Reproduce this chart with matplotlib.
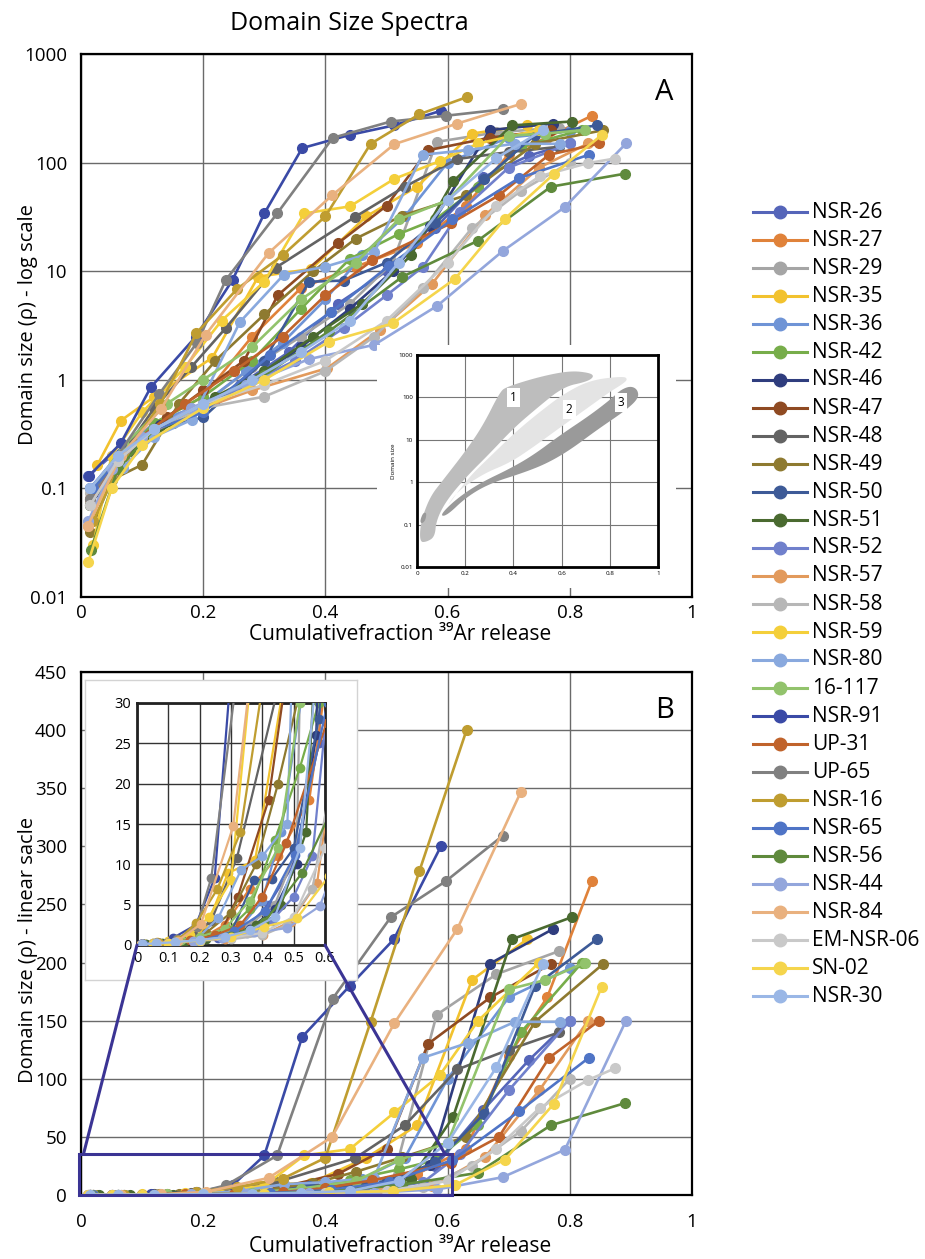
import numpy as np
import matplotlib
matplotlib.use('Agg')
import matplotlib.pyplot as plt
from matplotlib.patches import Rectangle, ConnectionPatch
from matplotlib.lines import Line2D

plt.rcParams['font.family'] = ['Open Sans', 'DejaVu Sans']

# ---------------- data ----------------
NAMES = ["NSR-26", "NSR-27", "NSR-29", "NSR-35", "NSR-36", "NSR-42", "NSR-46", "NSR-47",
         "NSR-48", "NSR-49", "NSR-50", "NSR-51", "NSR-52", "NSR-57", "NSR-58", "NSR-59",
         "NSR-80", "16-117", "NSR-91", "UP-31", "UP-65", "NSR-16", "NSR-65", "NSR-56",
         "NSR-44", "NSR-84", "EM-NSR-06", "SN-02", "NSR-30"]
COLORS = ["#5565b9", "#e0823a", "#a5a5a5", "#f2c22e", "#6f94d6", "#77ad4a", "#2f3d7e", "#8f4a22",
          "#636363", "#8e7a30", "#3d5a97", "#4a6a30", "#7080cc", "#e29a5c", "#b7b7b7", "#f4cf3a",
          "#89a9de", "#92c36c", "#3a4aa6", "#c0632b", "#808080", "#bf9d30", "#4f74c6", "#5f8a3c",
          "#93a6dc", "#e9b17f", "#c9c9c9", "#f5d54c", "#9ab7e6"]

x_nsr26 = [0.012, 0.05, 0.1, 0.18, 0.26, 0.34, 0.42, 0.5, 0.58, 0.658, 0.733, 0.80]
y_nsr26 = [0.13, 0.2, 0.32, 0.5, 0.9, 1.8, 5, 10, 25, 73, 116, 150]
x_nsr27 = [0.02, 0.06, 0.12, 0.2, 0.28, 0.36, 0.45, 0.55, 0.63, 0.70, 0.763, 0.836]
y_nsr27 = [0.1, 0.2, 0.4, 0.7, 2.5, 7, 11, 18, 40, 120, 170, 270]
x_nsr29 = [0.015, 0.06, 0.12, 0.2, 0.28, 0.36, 0.44, 0.51, 0.582, 0.68, 0.783]
y_nsr29 = [0.07, 0.2, 0.4, 0.6, 1.3, 2.5, 5, 12, 155, 190, 210]
x_nsr35 = [0.027, 0.065, 0.12, 0.215, 0.29, 0.377, 0.467, 0.55, 0.64, 0.73]
y_nsr35 = [0.165, 0.42, 0.7, 1.6, 8.9, 10.5, 32, 60, 185, 220]
x_nsr36 = [0.015, 0.06, 0.12, 0.2, 0.27, 0.33, 0.4, 0.46, 0.53, 0.6, 0.7, 0.8]
y_nsr36 = [0.08, 0.2, 0.4, 0.6, 1.2, 2.2, 5.5, 14, 32, 100, 170, 195]
x_nsr42 = [0.015, 0.06, 0.12, 0.2, 0.28, 0.36, 0.44, 0.52, 0.58, 0.65, 0.72, 0.82]
y_nsr42 = [0.07, 0.18, 0.4, 0.7, 1.5, 4.5, 13, 22, 30, 60, 140, 200]
x_nsr46 = [0.02, 0.07, 0.13, 0.2, 0.28, 0.36, 0.44, 0.51, 0.572, 0.669, 0.773]
y_nsr46 = [0.09, 0.2, 0.38, 0.6, 1.0, 2.0, 4.5, 10, 26, 199, 229]
x_nsr47 = [0.02, 0.07, 0.14, 0.2, 0.267, 0.322, 0.42, 0.5, 0.568, 0.67, 0.77]
y_nsr47 = [0.1, 0.22, 0.45, 0.8, 1.5, 6, 18, 40, 130, 170, 199]
x_nsr48 = [0.015, 0.06, 0.12, 0.18, 0.237, 0.319, 0.448, 0.53, 0.616, 0.70, 0.783]
y_nsr48 = [0.07, 0.18, 0.55, 1.3, 3.0, 10.8, 31.5, 60, 108, 125, 140]
x_nsr49 = [0.015, 0.05, 0.1, 0.16, 0.22, 0.3, 0.38, 0.45, 0.526, 0.63, 0.743, 0.855]
y_nsr49 = [0.04, 0.12, 0.165, 0.6, 1.5, 4, 10, 20, 32.5, 50, 149, 199]
x_nsr50 = [0.015, 0.06, 0.12, 0.2, 0.3, 0.373, 0.43, 0.5, 0.58, 0.66, 0.743, 0.844]
y_nsr50 = [0.1, 0.2, 0.35, 0.45, 1.5, 8, 8.2, 12, 28, 70, 180, 220]
x_nsr51 = [0.03, 0.08, 0.15, 0.22, 0.3, 0.38, 0.46, 0.54, 0.609, 0.705, 0.803]
y_nsr51 = [0.1, 0.22, 0.4, 0.7, 1.2, 2.5, 5, 14, 67, 220, 239]
x_nsr52 = [0.015, 0.05, 0.1, 0.18, 0.27, 0.35, 0.43, 0.5, 0.56, 0.62, 0.7, 0.8]
y_nsr52 = [0.05, 0.14, 0.3, 0.48, 0.9, 1.5, 3.0, 6, 11, 35, 90, 150]
x_nsr57 = [0.012, 0.05, 0.1, 0.18, 0.28, 0.403, 0.49, 0.575, 0.662, 0.75, 0.83]
y_nsr57 = [0.045, 0.14, 0.3, 0.5, 0.8, 1.28, 2.9, 7.7, 33, 90, 150]
x_nsr58 = [0.015, 0.06, 0.12, 0.2, 0.3, 0.4, 0.48, 0.56, 0.64, 0.72, 0.8]
y_nsr58 = [0.09, 0.2, 0.35, 0.55, 0.7, 1.2, 2.5, 7, 25, 55, 100]
x_nsr59 = [0.02, 0.05, 0.1, 0.17, 0.23, 0.3, 0.365, 0.44, 0.513, 0.587, 0.65, 0.75]
y_nsr59 = [0.03, 0.2, 0.5, 1.3, 3.5, 8, 34, 39.5, 71, 103, 150, 200]
x_nsr80 = [0.015, 0.068, 0.12, 0.182, 0.26, 0.332, 0.40, 0.48, 0.559, 0.634, 0.71, 0.784]
y_nsr80 = [0.1, 0.155, 0.3, 0.43, 3.4, 9.3, 11, 15, 118, 131, 149, 149]
x_16117 = [0.02, 0.07, 0.14, 0.2, 0.28, 0.36, 0.45, 0.52, 0.6, 0.70, 0.76, 0.825]
y_16117 = [0.1, 0.25, 0.6, 1.0, 2.0, 5.5, 12, 30, 45, 177, 185, 200]
x_nsr91 = [0.013, 0.065, 0.114, 0.188, 0.248, 0.30, 0.362, 0.44, 0.512, 0.589]
y_nsr91 = [0.13, 0.26, 0.85, 2.5, 8.3, 34, 136, 180, 220, 300]
x_up31 = [0.015, 0.05, 0.1, 0.17, 0.25, 0.33, 0.40, 0.477, 0.605, 0.684, 0.766, 0.848]
y_up31 = [0.08, 0.15, 0.3, 0.6, 1.2, 2.5, 6, 12.6, 27.5, 50, 118, 150]
x_up65 = [0.015, 0.06, 0.128, 0.19, 0.237, 0.321, 0.412, 0.507, 0.597, 0.69]
y_up65 = [0.08, 0.2, 0.74, 2.2, 8.3, 34, 169, 239, 270, 309]
x_nsr16 = [0.02, 0.07, 0.13, 0.189, 0.256, 0.33, 0.40, 0.474, 0.554, 0.631]
y_nsr16 = [0.05, 0.2, 0.6, 2.7, 6.9, 14, 32, 149, 279, 400]
x_nsr65 = [0.02, 0.06, 0.12, 0.2, 0.31, 0.409, 0.504, 0.608, 0.717, 0.831]
y_nsr65 = [0.1, 0.18, 0.35, 0.5, 1.7, 4.2, 11.2, 30, 72, 118]
x_nsr56 = [0.016, 0.06, 0.12, 0.2, 0.3, 0.406, 0.526, 0.649, 0.769, 0.89]
y_nsr56 = [0.027, 0.15, 0.35, 0.6, 1.1, 2.8, 8.9, 19, 60, 79]
x_nsr44 = [0.012, 0.05, 0.1, 0.18, 0.27, 0.373, 0.48, 0.583, 0.69, 0.792, 0.892]
y_nsr44 = [0.05, 0.15, 0.3, 0.55, 0.9, 1.55, 2.1, 4.8, 15.3, 39, 150]
x_nsr84 = [0.011, 0.065, 0.131, 0.204, 0.307, 0.411, 0.513, 0.616, 0.72]
y_nsr84 = [0.045, 0.2, 0.54, 2.6, 14.7, 50, 148, 229, 347]
x_emnsr06 = [0.015, 0.06, 0.12, 0.2, 0.3, 0.4, 0.5, 0.6, 0.68, 0.751, 0.83, 0.874]
y_emnsr06 = [0.07, 0.18, 0.35, 0.6, 0.9, 1.5, 3.5, 12, 40, 75, 99, 109]
x_sn02 = [0.012, 0.05, 0.1, 0.2, 0.3, 0.406, 0.51, 0.612, 0.694, 0.774, 0.852]
y_sn02 = [0.021, 0.1, 0.25, 0.55, 1.0, 2.25, 3.3, 8.5, 30.5, 78.6, 179]
x_nsr30 = [0.015, 0.06, 0.12, 0.2, 0.28, 0.36, 0.44, 0.52, 0.6, 0.68, 0.756]
y_nsr30 = [0.1, 0.2, 0.35, 0.6, 1.0, 1.8, 3.5, 12, 45, 110, 199]

XS = [x_nsr26, x_nsr27, x_nsr29, x_nsr35, x_nsr36, x_nsr42, x_nsr46, x_nsr47, x_nsr48, x_nsr49,
      x_nsr50, x_nsr51, x_nsr52, x_nsr57, x_nsr58, x_nsr59, x_nsr80, x_16117, x_nsr91, x_up31,
      x_up65, x_nsr16, x_nsr65, x_nsr56, x_nsr44, x_nsr84, x_emnsr06, x_sn02, x_nsr30]
YS = [y_nsr26, y_nsr27, y_nsr29, y_nsr35, y_nsr36, y_nsr42, y_nsr46, y_nsr47, y_nsr48, y_nsr49,
      y_nsr50, y_nsr51, y_nsr52, y_nsr57, y_nsr58, y_nsr59, y_nsr80, y_16117, y_nsr91, y_up31,
      y_up65, y_nsr16, y_nsr65, y_nsr56, y_nsr44, y_nsr84, y_emnsr06, y_sn02, y_nsr30]

# inset A (domain-size fields), x and log10(size)
field1_x = [0.011, 0.015, 0.053, 0.108, 0.205, 0.275, 0.344, 0.372, 0.51, 0.635, 0.718, 0.735, 0.705,
            0.607, 0.496, 0.40, 0.302, 0.205, 0.122, 0.08, 0.074, 0.039]
field1_l = [-1.41, -0.95, -0.35, 0.05, 0.76, 1.35, 2.13, 2.25, 2.49, 2.63, 2.58, 2.49, 2.37,
            2.25, 1.74, 1.27, 0.68, 0.13, -0.43, -0.9, -1.29, -1.41]
field2_x = [0.115, 0.21, 0.31, 0.41, 0.51, 0.61, 0.72, 0.857, 0.874, 0.857, 0.80, 0.705, 0.594,
            0.483, 0.386, 0.275, 0.164]
field2_l = [-0.66, 0.09, 0.64, 1.19, 1.66, 2.09, 2.41, 2.5, 2.43, 2.33, 2.13, 1.74, 1.29,
            0.83, 0.46, 0.20, -0.23]
field3_x = [0.094, 0.164, 0.261, 0.386, 0.483, 0.594, 0.718, 0.809, 0.843, 0.885, 0.915, 0.92,
            0.865, 0.746, 0.635, 0.538, 0.44, 0.302, 0.205, 0.122]
field3_l = [-0.78, -0.39, -0.02, 0.32, 0.64, 1.11, 1.58, 1.98, 2.17, 2.27, 2.19, 1.98,
            1.69, 1.23, 0.76, 0.44, 0.22, -0.03, -0.35, -0.80]
field3b_x = [0.012, 0.025, 0.04, 0.035, 0.02]
field3b_l = [-0.92, -0.72, -0.72, -0.9, -0.98]
FIELD_LABELS = ["1", "2", "3"]
FIELD_LABEL_X = [0.40, 0.632, 0.846]
FIELD_LABEL_L = [2.0, 1.72, 1.87]

# ---------------- figure ----------------
W, H = 925, 1259
fig = plt.figure(figsize=(W / 100, H / 100), dpi=100)


def px_axes(l, t, r, b):
    return fig.add_axes([l / W, 1 - b / H, (r - l) / W, (b - t) / H])


def chaikin(xs, ys, n=3):
    p = np.column_stack([xs, ys])
    for _ in range(n):
        q = np.roll(p, -1, axis=0)
        a = 0.75 * p + 0.25 * q
        b = 0.25 * p + 0.75 * q
        p = np.empty((2 * len(a), 2))
        p[0::2] = a
        p[1::2] = b
    return p


GRID_C = '#6a6a6a'
TICK_FS = 13.5
LAB_FS = 14.5

# ---- Panel A ----
axA = px_axes(81, 54, 692, 597)
axA.set_yscale('log')
axA.set_xlim(0, 1)
axA.set_ylim(0.01, 1000)
axA.set_xticks([0, 0.2, 0.4, 0.6, 0.8, 1])
axA.set_xticklabels(['0', '0.2', '0.4', '0.6', '0.8', '1'])
axA.set_yticks([0.01, 0.1, 1, 10, 100, 1000])
axA.set_yticklabels(['0.01', '0.1', '1', '10', '100', '1000'])
axA.minorticks_off()
axA.grid(True, color=GRID_C, lw=1.0)
axA.set_axisbelow(True)
axA.tick_params(length=0, labelsize=TICK_FS)
axA.tick_params(axis='y', pad=10)
axA.tick_params(axis='x', pad=5)
for s in axA.spines.values():
    s.set_linewidth(1.6)
    s.set_color('black')
for xs, ys, c in zip(XS, YS, COLORS):
    axA.plot(xs, ys, '-o', color=c, lw=1.9, ms=7, mec=c, zorder=3)
axA.text(0.955, 0.955, 'A', transform=axA.transAxes, ha='center', va='top', fontsize=21)

# white backdrop + inset in A
bgA = px_axes(377, 345, 676, 588)
bgA.set_facecolor('white')
bgA.set_xticks([])
bgA.set_yticks([])
for s in bgA.spines.values():
    s.set_visible(False)

insA = px_axes(417, 355, 658, 567)
insA.set_yscale('log')
insA.set_xlim(0, 1)
insA.set_ylim(0.01, 1000)
insA.set_xticks([0, 0.2, 0.4, 0.6, 0.8, 1])
insA.set_xticklabels(['0', '0.2', '0.4', '0.6', '0.8', '1'])
insA.set_yticks([0.01, 0.1, 1, 10, 100, 1000])
insA.set_yticklabels(['0.01', '0.1', '1', '10', '100', '1000'])
insA.minorticks_off()
insA.grid(True, color='#777777', lw=0.8)
insA.set_axisbelow(True)
insA.tick_params(length=0, labelsize=4.5, pad=3)
for s in insA.spines.values():
    s.set_linewidth(2.0)
    s.set_color('black')
for fx, fl, fc in [(field1_x, field1_l, '#bdbdbd'), (field2_x, field2_l, '#e4e4e4'),
                   (field3_x, field3_l, '#9a9a9a'), (field3b_x, field3b_l, '#9a9a9a')]:
    pts = chaikin(fx, fl, 3)
    insA.fill(pts[:, 0], 10 ** pts[:, 1], color=fc, lw=0, zorder=2)
for lab, lx, ll in zip(FIELD_LABELS, FIELD_LABEL_X, FIELD_LABEL_L):
    insA.text(lx, 10 ** ll, lab, ha='center', va='center', fontsize=8.5, zorder=4,
              bbox=dict(boxstyle='square,pad=0.25', fc='white', ec='none'))
insA.set_ylabel('Domain size', fontsize=4.5, labelpad=2)

# ---- Panel B ----
axB = px_axes(81, 672, 692, 1195)
axB.set_xlim(0, 1)
axB.set_ylim(0, 450)
axB.set_xticks([0, 0.2, 0.4, 0.6, 0.8, 1])
axB.set_xticklabels(['0', '0.2', '0.4', '0.6', '0.8', '1'])
axB.set_yticks(np.arange(0, 451, 50))
axB.grid(True, color=GRID_C, lw=1.0)
axB.set_axisbelow(True)
axB.tick_params(length=0, labelsize=TICK_FS)
axB.tick_params(axis='y', pad=10)
axB.tick_params(axis='x', pad=13)
for s in axB.spines.values():
    s.set_linewidth(1.6)
    s.set_color('black')
for xs, ys, c in zip(XS, YS, COLORS):
    axB.plot(xs, ys, '-o', color=c, lw=1.9, ms=7, mec=c, zorder=3)
axB.text(0.955, 0.955, 'B', transform=axB.transAxes, ha='center', va='top', fontsize=21)
axB.add_patch(Rectangle((-0.003, 0), 0.61, 35, fill=False, ec='#3b3494', lw=2.2,
                        clip_on=False, zorder=6))

# white box + zoom inset in B
bgB = px_axes(85, 680, 357, 980)
bgB.set_facecolor('white')
bgB.set_xticks([])
bgB.set_yticks([])
for s in bgB.spines.values():
    s.set_color('#d3d3d3')
    s.set_linewidth(1.0)

insB = px_axes(137, 703, 325, 945)
insB.set_xlim(0, 0.6)
insB.set_ylim(0, 30)
insB.set_xticks([0, 0.1, 0.2, 0.3, 0.4, 0.5, 0.6])
insB.set_xticklabels(['0', '0.1', '0.2', '0.3', '0.4', '0.5', '0.6'])
insB.set_yticks([0, 5, 10, 15, 20, 25, 30])
insB.grid(True, color='#333333', lw=1.0)
insB.set_axisbelow(True)
insB.tick_params(length=0, labelsize=10.5, pad=4)
for s in insB.spines.values():
    s.set_linewidth(2.0)
    s.set_color('#222222')
for xs, ys, c in zip(XS, YS, COLORS):
    insB.plot(xs, ys, '-o', color=c, lw=1.6, ms=6, mec=c, zorder=3)

for (xa, ya), (xb, yb) in [((0, 0), (0.004, 35)), ((0.6, 0), (0.596, 35))]:
    con = ConnectionPatch(xyA=(xa, ya), coordsA=insB.transData, xyB=(xb, yb),
                          coordsB=axB.transData, color='#3b3494', lw=2.2, zorder=7)
    fig.add_artist(con)

# ---- texts ----
fig.text(230 / W, 1 - 24 / H, 'Domain Size Spectra', ha='left', va='center', fontsize=18)
fig.text(28 / W, 1 - 325 / H, 'Domain size (ρ) - log scale', rotation=90,
         ha='center', va='center', fontsize=LAB_FS)
fig.text(28 / W, 1 - 950 / H, 'Domain size (ρ) - linear sacle', rotation=90,
         ha='center', va='center', fontsize=LAB_FS)
fig.text(249 / W, 1 - 634 / H, 'Cumulativefraction ³⁹Ar release', ha='left', va='center',
         fontsize=15)
fig.text(249 / W, 1 - 1246 / H, 'Cumulativefraction ³⁹Ar release', ha='left', va='center',
         fontsize=15)

# ---- legend (manual layout) ----
LEG_Y0, LEG_DY = 212, 28.0
for i, (nm, c) in enumerate(zip(NAMES, COLORS)):
    yy = 1 - (LEG_Y0 + i * LEG_DY) / H
    fig.add_artist(Line2D([753 / W, 807 / W], [yy, yy], color=c, lw=2.2,
                          transform=fig.transFigure))
    fig.add_artist(Line2D([780 / W], [yy], marker='o', ms=9, color=c, mec=c,
                          transform=fig.transFigure))
    fig.text(812 / W, yy, nm, ha='left', va='center', fontsize=15)

fig.savefig('out.png', dpi=100)
